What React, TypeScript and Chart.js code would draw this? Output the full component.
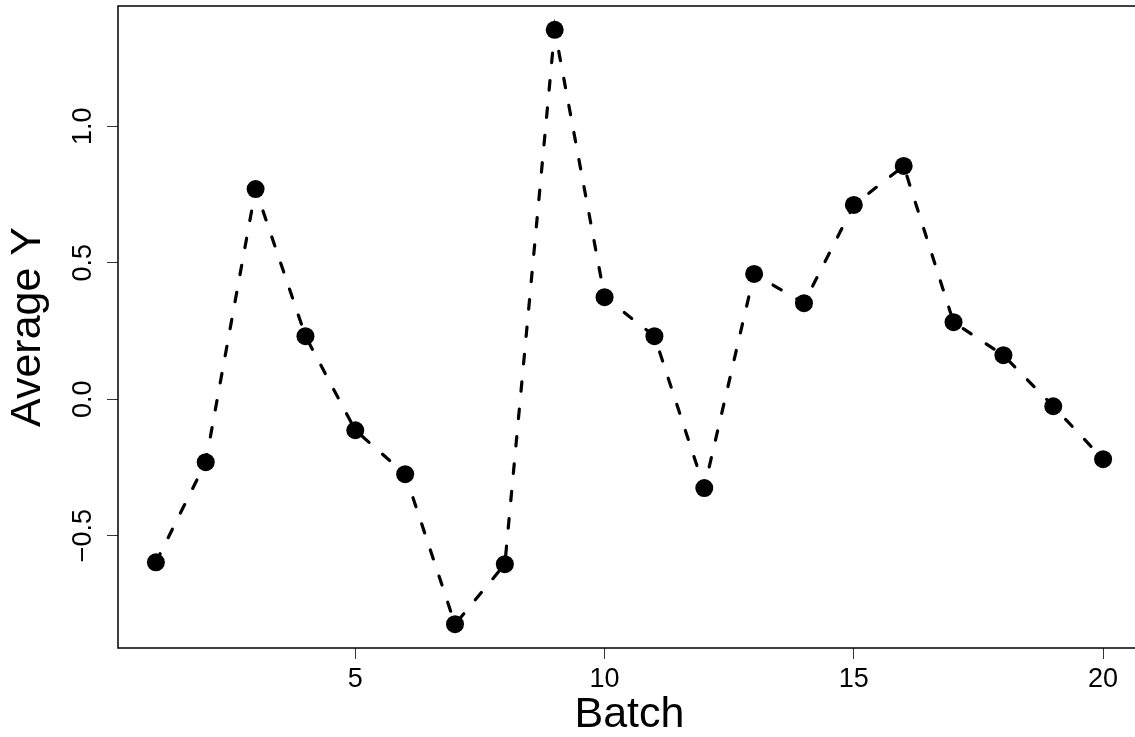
import React, { useEffect, useRef } from "react";
import { Chart, registerables } from "chart.js";

Chart.register(...registerables);

// Data
const batches = [1, 2, 3, 4, 5, 6, 7, 8, 9, 10, 11, 12, 13, 14, 15, 16, 17, 18, 19, 20];
const averageY = [
  -0.598, -0.231, 0.770, 0.231, -0.114, -0.275, -0.825, -0.605, 1.354, 0.374,
  0.231, -0.326, 0.459, 0.352, 0.712, 0.855, 0.282, 0.161, -0.026, -0.220,
];
const xTicks = [5, 10, 15, 20];
const xTickLabels = ["5", "10", "15", "20"];
const yTicks = [-0.5, 0, 0.5, 1.0];
const yTickLabels = ["\u22120.5", "0.0", "0.5", "1.0"];
const xTitle = "Batch";
const yTitle = "Average Y";

// R-style 4% axis expansion
const expand = (lo: number, hi: number): [number, number] => {
  const d = (hi - lo) * 0.04;
  return [lo - d, hi + d];
};

const FONT = "'Liberation Sans', Arial, Helvetica, sans-serif";

const boxPlugin = {
  id: "rbox",
  afterDraw(chart: any) {
    const { ctx, chartArea } = chart;
    ctx.save();
    ctx.strokeStyle = "#000";
    ctx.lineWidth = 1.5;
    ctx.strokeRect(chartArea.left, chartArea.top, chartArea.right - chartArea.left, chartArea.bottom - chartArea.top);
    ctx.restore();
  },
};

const noPad = (s: any) => {
  s.paddingTop = 0;
  s.paddingBottom = 0;
  s.paddingLeft = 0;
  s.paddingRight = 0;
};

export default function App() {
  const ref = useRef<HTMLCanvasElement | null>(null);

  useEffect(() => {
    if (!ref.current) return;
    const [xMin, xMax] = expand(Math.min(...batches), Math.max(...batches));
    const [yMin, yMax] = expand(Math.min(...averageY), Math.max(...averageY));
    const chart = new Chart(ref.current, {
      type: "line",
      data: {
        datasets: [
          {
            data: batches.map((b, i) => ({ x: b, y: averageY[i] })),
            borderColor: "#000",
            borderWidth: 3.2,
            borderDash: [9.5, 18],
            borderCapStyle: "round",
            pointRadius: 9,
            pointHoverRadius: 9,
            pointBackgroundColor: "#000",
            pointBorderWidth: 0,
            tension: 0,
            fill: false,
          },
        ],
      },
      options: {
        responsive: false,
        animation: false,
        devicePixelRatio: 1,
        layout: { autoPadding: false, padding: { left: 0, top: 6, right: 19, bottom: 0 } },
        plugins: { legend: { display: false }, tooltip: { enabled: false } },
        scales: {
          x: {
            type: "linear",
            min: xMin,
            max: xMax,
            afterBuildTicks: (s: any) => {
              s.ticks = xTicks.map((v) => ({ value: v }));
            },
            afterFit: (s: any) => {
              s.height = 89;
              noPad(s);
            },
            grid: { display: true, drawOnChartArea: false, drawTicks: true, tickLength: 11, tickColor: "#333", tickWidth: 1 },
            border: { display: false },
            ticks: {
              autoSkip: false,
              maxRotation: 0,
              minRotation: 0,
              padding: 4,
              color: "#000",
              font: { family: FONT, size: 27 },
              callback: (_v: any, i: number) => xTickLabels[i],
            },
            title: {
              display: true,
              text: xTitle,
              color: "#000",
              font: { family: FONT, size: 43, lineHeight: 1 },
              padding: { top: 0, bottom: 0 },
            },
          },
          y: {
            type: "linear",
            min: yMin,
            max: yMax,
            afterBuildTicks: (s: any) => {
              s.ticks = yTicks.map((v) => ({ value: v }));
            },
            afterFit: (s: any) => {
              s.width = 118;
              noPad(s);
            },
            grid: { display: true, drawOnChartArea: false, drawTicks: true, tickLength: 11, tickColor: "#333", tickWidth: 1 },
            border: { display: false },
            ticks: {
              autoSkip: false,
              minRotation: 90,
              maxRotation: 90,
              crossAlign: "center",
              padding: -3,
              color: "#000",
              font: { family: FONT, size: 27 },
              callback: (_v: any, i: number) => yTickLabels[i],
            },
            title: {
              display: true,
              text: yTitle,
              color: "#000",
              font: { family: FONT, size: 43, lineHeight: 1 },
              padding: { top: 7, bottom: 0 },
            },
          },
        },
      },
      plugins: [boxPlugin],
    } as any);
    return () => chart.destroy();
  }, []);

  return (
    <div style={{ position: "fixed", left: 0, top: 0, width: 1135, height: 737, overflow: "hidden", background: "#fff" }}>
      <canvas ref={ref} width={1160} height={737} style={{ display: "block" }} />
    </div>
  );
}
